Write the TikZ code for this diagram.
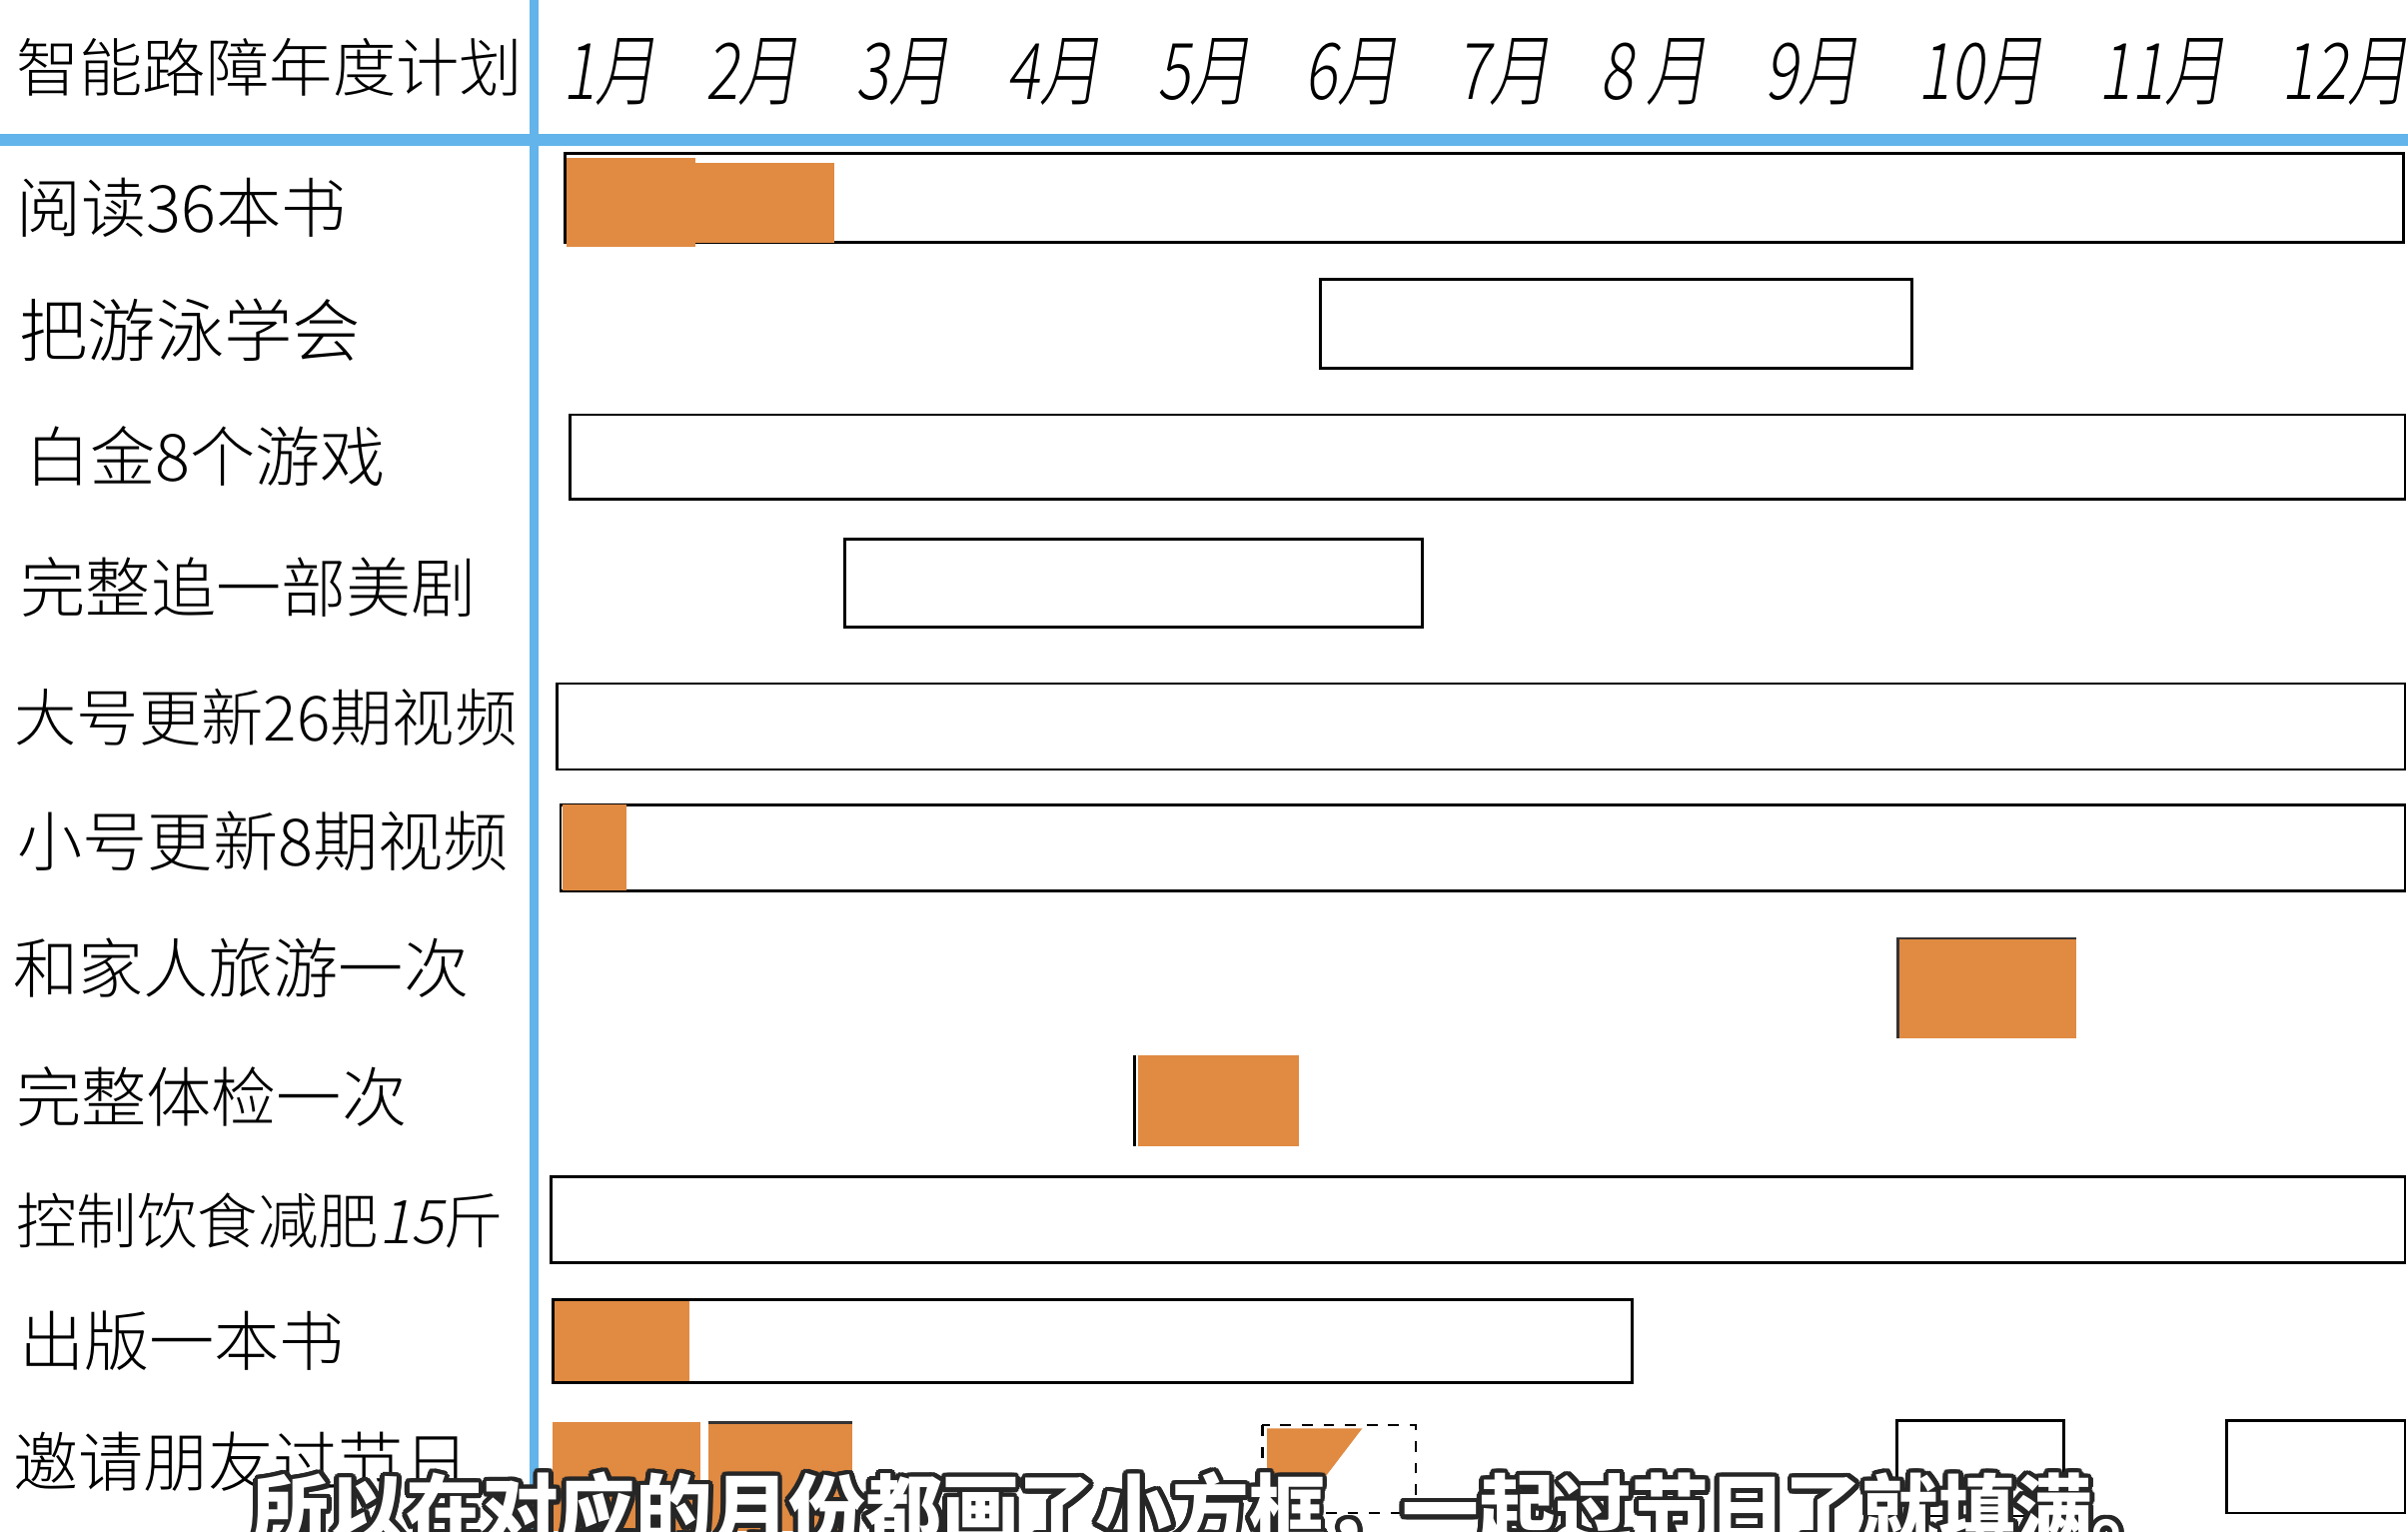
\documentclass[tikz,border=0pt]{standalone}
\usepackage{fontspec}
\IfFontExistsTF{Noto Sans CJK SC Light}{%
  \setmainfont{Noto Sans CJK SC Light}[BoldFont={Noto Sans CJK SC Bold}]
  \newfontfamily\slfont[FakeSlant=0.2]{Noto Sans CJK SC Light}
}{%
  \IfFontExistsTF{Noto Sans CJK SC DemiLight}{%
    \setmainfont{Noto Sans CJK SC DemiLight}[BoldFont={Noto Sans CJK SC Bold}]
    \newfontfamily\slfont[FakeSlant=0.2]{Noto Sans CJK SC DemiLight}
  }{%
    \setmainfont{Noto Sans CJK SC}
    \newfontfamily\slfont[FakeSlant=0.2]{Noto Sans CJK SC}
  }%
}
\newfontfamily\subfont{Noto Sans CJK SC}
\definecolor{barorange}{RGB}{224,138,66}
\definecolor{gridblue}{RGB}{98,180,234}
\tikzset{
  lbl/.style={anchor=west, inner sep=0, font=\fontsize{18.1}{19}\selectfont},
  mon/.style={inner sep=0, font=\slfont\fontsize{17}{18}\selectfont},
  bar/.style={draw=black, line width=0.28mm},
  ofill/.style={fill=barorange},
  gridline/.style={draw=gridblue},
  subtxt/.style={anchor=west, inner sep=0, font=\subfont\bfseries\fontsize{21.3}{22}\selectfont}
}
\newcommand{\mtxt}[1]{\scalebox{1}[1.28]{#1}}
\begin{document}
\begin{tikzpicture}[x=0.15mm,y=-0.15mm]
\useasboundingbox (0,0) rectangle (1568,997);
\fill[white] (0,0) rectangle (1568,997);
% grid lines
\draw[gridline, line width=1.2mm] (0,91) -- (1568,91);
\draw[gridline, line width=0.9mm] (348,0) -- (348,997);
% header
\node[lbl, font=\fontsize{17.6}{18}\selectfont] (title) at (10,44) {智能路障年度计划};
\node[mon] (m1) at (397,47) {\mtxt{1月}};
\node[mon] (m2) at (490,47) {\mtxt{2月}};
\node[mon] (m3) at (588,47) {\mtxt{3月}};
\node[mon] (m4) at (686,47) {\mtxt{4月}};
\node[mon] (m5) at (784,47) {\mtxt{5月}};
\node[mon] (m6) at (880,47) {\mtxt{6月}};
\node[mon] (m7) at (979,47) {\mtxt{7月}};
\node[mon] (m8) at (1077,47) {\mtxt{8 月}};
\node[mon] (m9) at (1180,47) {\mtxt{9月}};
\node[mon] (m10) at (1290,47) {\mtxt{10月}};
\node[mon] (m11) at (1408,47) {\mtxt{11月}};
\node[mon] (m12) at (1527,47) {\mtxt{12月}};
% row labels
\node[lbl] (r1) at (10,135) {阅读36本书};
\node[lbl, font=\fontsize{19}{20}\selectfont] (r2) at (12,215) {把游泳学会};
\node[lbl] (r3) at (16,297) {白金8个游戏};
\node[lbl] (r4) at (13,382) {完整追一部美剧};
\node[lbl, font=\fontsize{17.3}{18}\selectfont] (r5) at (9,467) {大号更新26期视频};
\node[lbl] (r6) at (11,548) {小号更新8期视频};
\node[lbl] (r7) at (8,630) {和家人旅游一次};
\node[lbl] (r8) at (10,714) {完整体检一次};
\node[lbl, font=\fontsize{16.8}{17}\selectfont] (r9) at (10,795) {控制饮食减肥{\slfont 15}斤};
\node[lbl] (r10) at (12,873) {出版一本书};
\node[lbl] (r11) at (8,952) {邀请朋友过节日};
% bars
\draw[bar] (368,100) rectangle (1565,158);
\fill[ofill] (369,103) rectangle (453,161);
\fill[ofill] (453,106) rectangle (543,158);
\draw[bar] (860,182) rectangle (1245,240);
\draw[bar] (371,270) rectangle (1566,325);
\draw[bar] (550,351) rectangle (926,408);
\draw[bar] (363,445) rectangle (1566,501);
\draw[bar] (365,524) rectangle (1566,580);
\fill[ofill] (366,524) rectangle (408,580);
\fill[ofill] (1236,611) rectangle (1352,676);
\draw[black!80, line width=0.25mm] (1236,676) -- (1236,611) -- (1352,611);
\fill[ofill] (741,687) rectangle (846,746);
\draw[black, line width=0.28mm] (739,687) -- (739,746);
\draw[bar] (359,766) rectangle (1566,822);
\draw[bar] (360,846) rectangle (1063,900);
\fill[ofill] (361,847) rectangle (449,899);
% festival row
\fill[ofill] (360,926) rectangle (456,997);
\fill[ofill] (461,926) rectangle (555,997);
\draw[black!80, line width=0.25mm] (461,926) -- (555,926);
\fill[ofill] (825,930) -- (887,930) -- (845,985) -- (825,985) -- cycle;
\draw[bar, line width=0.22mm, dashed] (822,928) rectangle (922,985);
\draw[bar] (1235,925) rectangle (1344,987);
\draw[bar] (1450,925) rectangle (1566,985);
% subtitle overlay
\foreach \a in {0,20,...,340}
  \node[subtxt, text=black!85] at ([shift={(\a:3.2)}]164,984) {所以在对应的月份都画了小方框，一起过节日了就填满。};
\node[subtxt, text=white] (sub) at (164,984) {所以在对应的月份都画了小方框，一起过节日了就填满。};
\end{tikzpicture}
\end{document}
